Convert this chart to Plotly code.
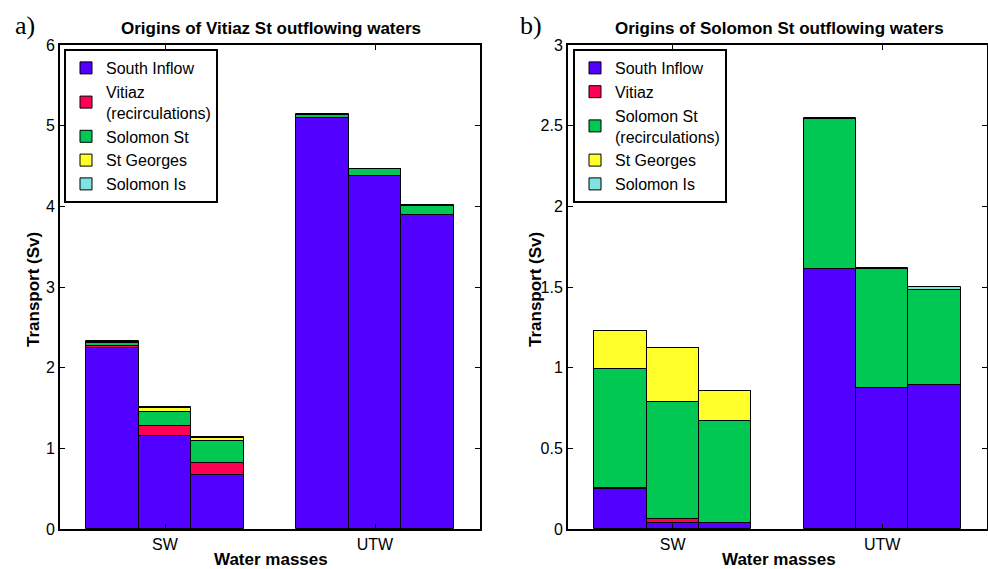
import plotly.graph_objects as go

# ---------------- data ----------------
groups = ["SW", "UTW"]
bar_offsets = [-0.25, 0.0, 0.25]   # three bars per water mass

series_a = ["South Inflow", "Vitiaz<br>(recirculations)", "Solomon St", "St Georges", "Solomon Is"]
series_b = ["South Inflow", "Vitiaz", "Solomon St<br>(recirculations)", "St Georges", "Solomon Is"]
colors = ["#5200FF", "#FF0055", "#00C853", "#FFFF2A", "#7FE3E3"]

# Panel a: origins of Vitiaz St outflowing waters (Sv); 3 SW bars then 3 UTW bars
a_south_inflow = [2.245, 1.147, 0.667, 5.097, 4.373, 3.888]
a_vitiaz       = [0.025, 0.133, 0.153, 0.000, 0.000, 0.000]
a_solomon_st   = [0.035, 0.174, 0.265, 0.035, 0.090, 0.120]
a_st_georges   = [0.010, 0.045, 0.040, 0.000, 0.000, 0.000]
a_solomon_is   = [0.010, 0.008, 0.010, 0.010, 0.005, 0.010]

# Panel b: origins of Solomon St outflowing waters (Sv)
b_south_inflow = [0.250, 0.040, 0.037, 1.613, 0.873, 0.894]
b_vitiaz       = [0.005, 0.019, 0.003, 0.000, 0.000, 0.000]
b_solomon_st   = [0.737, 0.729, 0.632, 0.927, 0.737, 0.590]
b_st_georges   = [0.238, 0.337, 0.184, 0.000, 0.000, 0.000]
b_solomon_is   = [0.000, 0.000, 0.000, 0.005, 0.010, 0.014]

a_ticks = [0, 1, 2, 3, 4, 5, 6]
b_ticks = [0, 0.5, 1, 1.5, 2, 2.5, 3]
b_ticktext = ["0", "0.5", "1", "1.5", "2", "2.5", "3"]

# --------------------------------------
FONT = "Liberation Sans, Arial, Helvetica, sans-serif"
W, H = 988, 569
x_pos = [gi + 1 + off for gi in range(len(groups)) for off in bar_offsets]

fig = go.Figure()
panel_a = [a_south_inflow, a_vitiaz, a_solomon_st, a_st_georges, a_solomon_is]
panel_b = [b_south_inflow, b_vitiaz, b_solomon_st, b_st_georges, b_solomon_is]
for name, vals, col in zip(series_a, panel_a, colors):
    fig.add_trace(go.Bar(x=x_pos, y=vals, name=name, width=0.25, marker_color=col,
                         marker_line=dict(color="black", width=1),
                         xaxis="x", yaxis="y", legend="legend"))
for name, vals, col in zip(series_b, panel_b, colors):
    fig.add_trace(go.Bar(x=x_pos, y=vals, name=name, width=0.25, marker_color=col,
                         marker_line=dict(color="black", width=1),
                         xaxis="x2", yaxis="y2", legend="legend2"))

def px_x(p):
    return p / W

def px_y(p):
    return (H - p) / H

axis_common = dict(showline=True, linecolor="black", linewidth=2, mirror="ticks",
                   ticks="inside", ticklen=5, tickwidth=1, tickcolor="black",
                   showgrid=False, zeroline=False, automargin=False,
                   tickfont=dict(family=FONT, size=16, color="black"))

legend_common = dict(xanchor="left", yanchor="top",
                     bordercolor="black", borderwidth=2, bgcolor="white",
                     font=dict(family=FONT, size=16, color="black"),
                     tracegroupgap=0, traceorder="normal", itemclick=False)

fig.update_layout(
    width=W, height=H,
    margin=dict(l=0, r=0, t=0, b=0),
    paper_bgcolor="white", plot_bgcolor="white",
    barmode="relative", bargap=0,
    font=dict(family=FONT, color="black"),
    xaxis=dict(domain=[px_x(60), px_x(480)], range=[0.5, 2.5], anchor="y",
               tickvals=[1, 2], ticktext=groups, **axis_common),
    yaxis=dict(domain=[px_y(529), px_y(45)], range=[0, 6], anchor="x",
               tickvals=a_ticks, **axis_common),
    xaxis2=dict(domain=[px_x(568), px_x(987)], range=[0.5, 2.5], anchor="y2",
                tickvals=[1, 2], ticktext=groups, **axis_common),
    yaxis2=dict(domain=[px_y(529), px_y(45)], range=[0, 3], anchor="x2",
                tickvals=b_ticks, ticktext=b_ticktext, **axis_common),
    legend=dict(x=px_x(64), y=px_y(49), **legend_common),
    legend2=dict(x=px_x(573), y=px_y(49), **legend_common),
)

ann = []
for cx, title, lab, labx, ylabx in [
    (271, "Origins of Vitiaz St outflowing waters", "a)", 25, 33),
    (779, "Origins of Solomon St outflowing waters", "b)", 531, 535),
]:
    ann.append(dict(text=f"<b>{title}</b>", x=px_x(cx), y=px_y(29), xref="paper", yref="paper",
                    showarrow=False, xanchor="center", yanchor="middle",
                    font=dict(family=FONT, size=17, color="black")))
    ann.append(dict(text="<b>Water masses</b>", x=px_x(cx), y=px_y(559), xref="paper", yref="paper",
                    showarrow=False, xanchor="center", yanchor="middle",
                    font=dict(family=FONT, size=17, color="black")))
    ann.append(dict(text="<b>Transport (Sv)</b>", x=px_x(ylabx), y=px_y(290), xref="paper", yref="paper",
                    showarrow=False, xanchor="center", yanchor="middle", textangle=-90,
                    font=dict(family=FONT, size=17, color="black")))
    ann.append(dict(text=lab, x=px_x(labx), y=px_y(25), xref="paper", yref="paper",
                    showarrow=False, xanchor="center", yanchor="middle",
                    font=dict(family="Liberation Serif, Times New Roman, serif", size=26, color="black")))
fig.update_layout(annotations=ann)

fig.write_html("out.html", config={"displayModeBar": False},
               post_script="document.body.style.margin='0px';document.body.style.overflow='hidden';")
